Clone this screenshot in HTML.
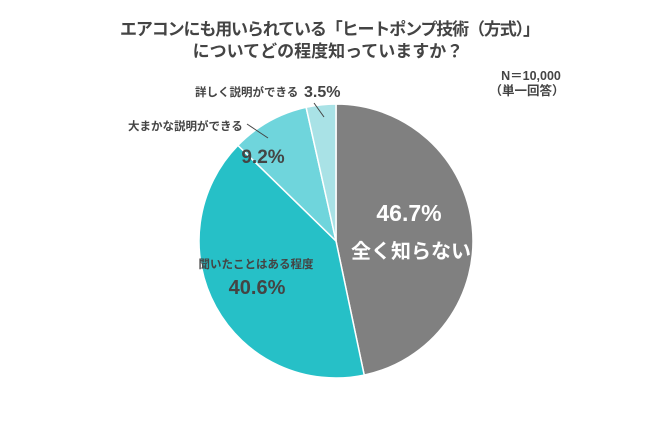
<!DOCTYPE html>
<html><head><meta charset="utf-8"><style>
body{margin:0;background:#fff;}
svg{display:block;font-family:"Liberation Sans","Noto Sans CJK JP",sans-serif;font-weight:bold;}
</style></head><body>
<svg width="650" height="431" viewBox="0 0 650 431">
<text x="330" y="35" text-anchor="middle" font-size="17" fill="#444" textLength="420">エアコンにも用いられている「ヒートポンプ技術（方式）」</text>
<text x="328" y="57" text-anchor="middle" font-size="17" fill="#444">についてどの程度知っていますか？</text>
<text x="531" y="80" text-anchor="middle" font-size="12.5" fill="#444">N＝10,000</text>
<text x="527" y="95" text-anchor="middle" font-size="12.5" fill="#444">（単一回答）</text>
<g id="slices"></g>
<g id="labels"></g>
</svg>
<script>
const categories=["全く知らない","聞いたことはある程度","大まかな説明ができる","詳しく説明ができる"];
const values=[46.7,40.6,9.2,3.5];
const colors=["#808080","#26c0c7","#6fd5dc","#a9e2e6"];
const cx=336,cy=241,r=137;
const ns="http://www.w3.org/2000/svg";
const g=document.getElementById('slices');
const total=values.reduce((a,b)=>a+b,0);
let a0=0;
function pt(a,rr){return [cx+rr*Math.sin(a),cy-rr*Math.cos(a)];}
values.forEach((v,i)=>{
  const a1=a0+v/total*2*Math.PI;
  const p0=pt(a0,r),p1=pt(a1,r);
  const large=(a1-a0)>Math.PI?1:0;
  const p=document.createElementNS(ns,'path');
  p.setAttribute('d',`M${cx},${cy}L${p0[0]},${p0[1]}A${r},${r} 0 ${large} 1 ${p1[0]},${p1[1]}Z`);
  p.setAttribute('fill',colors[i]);
  p.setAttribute('stroke','#fff');
  p.setAttribute('stroke-width','1.5');
  
  
  g.appendChild(p);
  a0=a1;
});
const L=document.getElementById('labels');
function txt(x,y,s,size,fill,anchor,name){
  const t=document.createElementNS(ns,'text');
  t.setAttribute('x',x);t.setAttribute('y',y);t.setAttribute('font-size',size);
  t.setAttribute('fill',fill);t.setAttribute('text-anchor',anchor||'middle');
  t.textContent=s;
  
  
  L.appendChild(t);
}
function line(x1,y1,x2,y2,name){
  const l=document.createElementNS(ns,'line');
  l.setAttribute('x1',x1);l.setAttribute('y1',y1);l.setAttribute('x2',x2);l.setAttribute('y2',y2);
  l.setAttribute('stroke','#444');l.setAttribute('stroke-width','1');
  
  
  L.appendChild(l);
}
txt(409,221,values[0].toFixed(1)+"%",23,"#fff","middle","label-value-0");
txt(411,258,categories[0],20,"#fff","middle","label-name-0");
txt(256,268,categories[1],11.5,"#444","middle","label-name-1");
txt(257,294,values[1].toFixed(1)+"%",20,"#444","middle","label-value-1");
txt(263,163,values[2].toFixed(1)+"%",19,"#444","middle","label-value-2");
txt(128,130,categories[2],11.5,"#444","start","label-name-2");
line(247,124,268,138,"leader-2");
txt(195,96,categories[3],11.5,"#444","start","label-name-3");
txt(304,97,values[3].toFixed(1)+"%",16,"#444","start","label-value-3");
line(314,103,324,117,"leader-3");
</script>
</body></html>
